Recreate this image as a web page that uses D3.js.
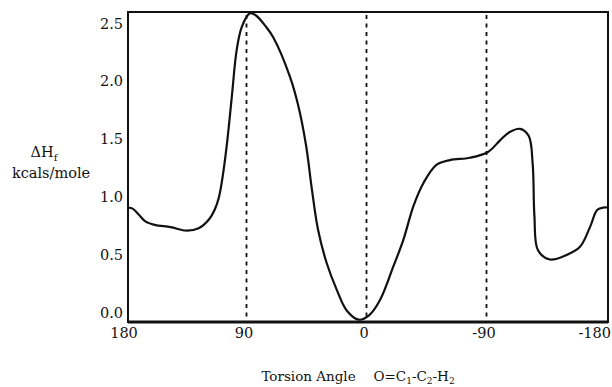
<!DOCTYPE html>
<html>
<head>
<meta charset="utf-8">
<script src="https://cdn.jsdelivr.net/npm/d3@7"></script>
<style>
  body { margin: 0; background: #fff; }
  text { font-family: "DejaVu Serif", serif; fill: #111; }
</style>
</head>
<body>
<div id="chart"></div>
<script>
// torsion angle (degrees) and heat of formation (kcal/mole)
const angles = [180, 176.5, 172, 167, 160, 148, 136, 127, 119, 115, 112, 109.5, 106, 102.2, 98.5, 94.7, 88.5,
  84, 77, 71, 58.5, 52.5, 46.5, 42, 37.5, 31, 23.5, 16, 7, -1, -9, -19, -26.5, -34, -41.5, -51.5, -61.5,
  -76.5, -90, -99, -106, -114, -120.5, -123.5, -124.8, -127.5, -136.5, -149, -159, -166.5, -172, -177, -180];
const energies = [0.97, 0.96, 0.91, 0.85, 0.82, 0.80, 0.77, 0.79, 0.87, 0.95, 1.05, 1.20, 1.50, 1.92, 2.33, 2.53, 2.65,
  2.63, 2.54, 2.44, 2.10, 1.86, 1.51, 1.12, 0.78, 0.49, 0.26, 0.08, 0.0, 0.04, 0.17, 0.46, 0.69, 0.98, 1.18,
  1.34, 1.38, 1.40, 1.45, 1.55, 1.62, 1.65, 1.59, 1.35, 0.90, 0.60, 0.52, 0.56, 0.63, 0.80, 0.95, 0.97, 0.97];
const xTicks = [180, 90, 0, -90, -180];
const xTickLabels = ["180", "90", "0", "-90", "-180"];
const yTicks = [0, 0.5, 1.0, 1.5, 2.0, 2.5];
const refAngles = [90, 0, -90];

const config = {
  width: 612,
  height: 387,
  left: 128,
  right: 608,
  top: 12,
  bottom: 322,
};

const svg = d3.select("#chart").append("svg")
  .attr("width", config.width)
  .attr("height", config.height);

const x = d3.scaleLinear().domain([180, -180]).range([config.left, config.right]);
const y = d3.scaleLinear().domain([-0.02, 2.66]).range([config.bottom, config.top]);

// dotted reference lines
svg.selectAll("line.ref")
  .data(refAngles)
  .join("line")
  .attr("class", "ref")
  .attr("x1", (d) => x(d) - 1.5)
  .attr("x2", (d) => x(d) - 1.5)
  .attr("y1", config.top + 3)
  .attr("y2", config.bottom)
  .attr("stroke", "#111")
  .attr("stroke-width", 1.8)
  .attr("stroke-dasharray", "4,4.5");

// frame
svg.append("rect")
  .attr("x", config.left)
  .attr("y", config.top)
  .attr("width", config.right - config.left)
  .attr("height", config.bottom - config.top)
  .attr("fill", "none")
  .attr("stroke", "#111")
  .attr("stroke-width", 2);

svg.append("line")
  .attr("x1", config.left).attr("x2", config.right)
  .attr("y1", config.bottom).attr("y2", config.bottom)
  .attr("stroke", "#111")
  .attr("stroke-width", 3);

// curve
const pts = angles.map((a, i) => [a, energies[i]]);
const line = d3.line()
  .x((d) => x(d[0]))
  .y((d) => y(d[1]))
  .curve(d3.curveCatmullRom.alpha(0.5));

svg.append("path")
  .datum(pts)
  .attr("d", line)
  .attr("fill", "none")
  .attr("stroke", "#111")
  .attr("stroke-width", 2.2)
  .attr("stroke-linejoin", "round");

// y tick labels (sit a bit above their value, as in the original)
svg.selectAll("text.ytick")
  .data(yTicks)
  .join("text")
  .attr("class", "ytick")
  .attr("x", config.left - 5)
  .attr("y", (d) => y(d) - 2)
  .attr("text-anchor", "end")
  .attr("font-size", 14.5)
  .text((d) => d.toFixed(1));

// x tick labels
svg.selectAll("text.xtick")
  .data(xTicks)
  .join("text")
  .attr("class", "xtick")
  .attr("x", (d, i) => (i === xTicks.length - 1 ? config.right + 3 : x(d) - 4))
  .attr("y", 338)
  .attr("text-anchor", (d, i) => (i === xTicks.length - 1 ? "end" : "middle"))
  .attr("font-size", 14.5)
  .text((d, i) => xTickLabels[i]);

// y axis title
const yt = svg.append("text")
  .attr("x", 44)
  .attr("y", 157)
  .attr("text-anchor", "middle")
  .attr("font-size", 14.5);
yt.append("tspan").text("ΔH");
yt.append("tspan").attr("font-size", 10).attr("dy", 4).text("f");

svg.append("text")
  .attr("x", 51)
  .attr("y", 178)
  .attr("text-anchor", "middle")
  .attr("font-size", 14.5)
  .text("kcals/mole");

// x axis title
const xt = svg.append("text")
  .attr("x", 358)
  .attr("y", 381)
  .attr("text-anchor", "middle")
  .attr("font-size", 13.5);
xt.append("tspan").text("Torsion Angle\u2003 O=C");
xt.append("tspan").attr("font-size", 9).attr("dy", 3).text("1");
xt.append("tspan").attr("dy", -3).text("-C");
xt.append("tspan").attr("font-size", 9).attr("dy", 3).text("2");
xt.append("tspan").attr("dy", -3).text("-H");
xt.append("tspan").attr("font-size", 9).attr("dy", 3).text("2");
</script>
</body>
</html>
